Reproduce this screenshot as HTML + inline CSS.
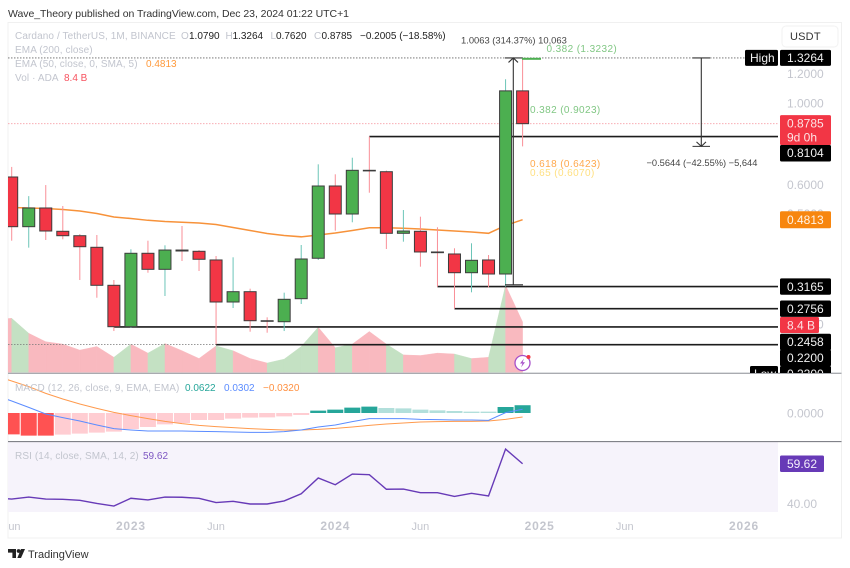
<!DOCTYPE html>
<html lang="en">
<head>
<meta charset="utf-8">
<title>Cardano / TetherUS chart</title>
<style>
html,body{margin:0;padding:0;background:#fff;width:850px;height:568px;overflow:hidden}
svg{display:block;filter:blur(0.3px)}
text{font-family:"Liberation Sans",sans-serif}
</style>
</head>
<body>
<svg id="chart" xmlns="http://www.w3.org/2000/svg" width="850" height="568" viewBox="0 0 850 568">
<defs>
<clipPath id="pane-main"><rect x="8" y="23" width="770" height="350"/></clipPath>
<clipPath id="pane-macd"><rect x="8" y="374" width="770" height="67"/></clipPath>
<clipPath id="pane-rsi"><rect x="8" y="442" width="770" height="70"/></clipPath>
<clipPath id="axis-clip"><rect x="700" y="23" width="141" height="350"/></clipPath>
<clipPath id="time-clip"><rect x="8" y="512" width="770" height="26"/></clipPath>
</defs>
<rect width="850" height="568" fill="#ffffff"/>
<text x="8" y="17" font-size="10.5" fill="#333" textLength="341" lengthAdjust="spacing">Wave_Theory published on TradingView.com, Dec 23, 2024 01:22 UTC+1</text>
<rect x="8" y="22.5" width="833.5" height="515.5" fill="none" stroke="#f0f0f0"/>
<rect x="8" y="442" width="770" height="70" fill="#f6f3fb"/>

<g id="g-volume" clip-path="url(#pane-main)"></g>
<g id="g-dotted"></g>
<g id="g-hlines"></g>
<g id="g-ema" clip-path="url(#pane-main)"></g>
<g id="g-candles" clip-path="url(#pane-main)"></g>

<g fill="none" stroke="#333" stroke-width="1">
<path id="measure-up-path" stroke-width="1.1"/>
</g>
<g fill="none" stroke="#333" stroke-width="1">
<path id="measure-down-path" stroke-width="1.1"/>
</g>
<rect id="fib-top-line" x="522" width="19" height="2" fill="#4caf50"/>
<text x="461" y="43.5" font-size="9.4" fill="#444">1.0063 (314.37%) 10,063</text>
<text x="646.5" y="166" font-size="9.3" fill="#444">−0.5644 (−42.55%) −5,644</text>
<text x="546.5" y="52" font-size="10" fill="#81c784" letter-spacing=".4">0.382 (1.3232)</text>
<text x="530" y="113" font-size="10" fill="#81c784" letter-spacing=".4">0.382 (0.9023)</text>
<text x="530" y="167" font-size="10" fill="#ffa94d" letter-spacing=".4">0.618 (0.6423)</text>
<text x="530" y="176" font-size="10" fill="#ffe082" letter-spacing=".4">0.65 (0.6070)</text>

<g font-size="10">
<text x="15" y="39" fill="#c2c5ce" letter-spacing=".1">Cardano / TetherUS, 1M, BINANCE</text>
<text x="181" y="39" fill="#c2c5ce">O</text>
<text x="189" y="39" fill="#222">1.0790</text>
<text x="225.5" y="39" fill="#c2c5ce">H</text>
<text x="232.5" y="39" fill="#222">1.3264</text>
<text x="270.5" y="39" fill="#c2c5ce">L</text>
<text x="276" y="39" fill="#222">0.7620</text>
<text x="314" y="39" fill="#c2c5ce">C</text>
<text x="321.5" y="39" fill="#222">0.8785</text>
<text x="360" y="39" fill="#222">−0.2005 (−18.58%)</text>
<text x="15" y="53" fill="#c2c5ce" letter-spacing=".1">EMA (200, close)</text>
<text x="15" y="67" fill="#c2c5ce" letter-spacing=".1">EMA (50, close, 0, SMA, 5)</text>
<text x="146" y="67" fill="#ff9a3c">0.4813</text>
<text x="15" y="81" fill="#c2c5ce" letter-spacing=".1">Vol · ADA</text>
<text x="64" y="81" fill="#f7525f">8.4 B</text>
</g>

<line x1="8" x2="841.5" y1="373.3" y2="373.3" stroke="#a9abb0" stroke-width="1.4"/>
<line x1="8" x2="841.5" y1="441.6" y2="441.6" stroke="#6f7178" stroke-width="1"/>

<g id="g-macd" clip-path="url(#pane-macd)"></g>
<g id="g-rsi" clip-path="url(#pane-rsi)"></g>

<g font-size="10">
<text x="15" y="391" fill="#c2c5ce" letter-spacing=".1">MACD (12, 26, close, 9, EMA, EMA)</text>
<text x="185" y="391" fill="#26a69a">0.0622</text>
<text x="224" y="391" fill="#5b8cff">0.0302</text>
<text x="263" y="391" fill="#ff9040">−0.0320</text>
</g>
<g font-size="10">
<text x="15" y="459" fill="#c2c5ce" letter-spacing=".1">RSI (14, close, SMA, 14, 2)</text>
<text x="143" y="459" fill="#7e57c2">59.62</text>
</g>

<g id="g-axis" clip-path="url(#axis-clip)"></g>
<g id="g-time" clip-path="url(#time-clip)"></g>
<text x="787" y="417.5" font-size="12" fill="#c4c6ce">0.0000</text>
<text x="787" y="508" font-size="12" fill="#c4c6ce">40.00</text>
<rect x="780" y="455.5" width="44" height="16.5" rx="1.5" fill="#673ab7"/>
<text x="787" y="468" font-size="12" fill="#f3eefb">59.62</text>

<g>
<rect x="782" y="26" width="56" height="21" rx="4" fill="#fff" stroke="#f2f2f2"/>
<text x="790" y="40" font-size="11" fill="#333" letter-spacing=".2">USDT</text>
</g>

<g>
<circle cx="522.5" cy="363" r="7.5" fill="#fff" stroke="#a64fc9" stroke-width="1.3"/>
<path d="M524 358.5 L520 363.5 L522.5 363.5 L521 367.5 L525 362.3 L522.6 362.3 Z" fill="#a64fc9"/>
<circle cx="528.5" cy="357" r="2" fill="#f23645"/>
</g>

<g>
<path d="M8 549 H16 V558 H12.4 V552.6 H8 Z" fill="#222"/>
<circle cx="18.6" cy="551" r="1.9" fill="#222"/>
<path d="M21 549 H25 L21 558 H17.3 Z" fill="#222"/>
<text x="28" y="558" font-size="11" fill="#333">TradingView</text>
</g>
</svg>
<script>
var opens = [0.629,0.4607,0.518,0.4476,0.4354,0.4049,0.3191,0.2462,0.39,0.3527,0.398,0.3949,0.374,0.2874,0.3066,0.2556,0.254,0.2934,0.378,0.5945,0.4988,0.6559,0.6502,0.442,0.4476,0.3932,0.3883,0.3453,0.374,0.3425,1.0790];
var highs = [0.670,0.558,0.598,0.5245,0.4401,0.4373,0.3299,0.3999,0.422,0.41,0.4627,0.398,0.3834,0.3803,0.3124,0.2611,0.3047,0.4108,0.681,0.6397,0.7098,0.8104,0.655,0.5115,0.4905,0.459,0.4024,0.4152,0.3858,1.16,1.3264];
var lows = [0.422,0.404,0.4238,0.4257,0.3299,0.2952,0.2396,0.2442,0.3453,0.2984,0.3716,0.349,0.2205,0.2768,0.2386,0.2371,0.2396,0.2838,0.374,0.4493,0.4736,0.570,0.4006,0.4194,0.3586,0.3165,0.2756,0.3054,0.3151,0.3165,0.7620];
var closes = [0.4607,0.518,0.4484,0.4354,0.4064,0.3191,0.2462,0.39,0.3527,0.398,0.3956,0.3756,0.2874,0.3066,0.2556,0.2551,0.2923,0.3763,0.5945,0.4988,0.6559,0.6543,0.442,0.4484,0.3932,0.3915,0.3453,0.3732,0.3425,1.0790,0.8785];
var ema50 = [0.5196,0.518,0.5163,0.5131,0.5083,0.5004,0.4895,0.485,0.4795,0.4759,0.4738,0.4715,0.4671,0.4584,0.4498,0.4415,0.4359,0.4324,0.4373,0.4429,0.4498,0.4575,0.4575,0.4564,0.4541,0.4513,0.4484,0.4456,0.442,0.4642,0.4813];
var emaPrior = 0.52;
var volumes = [9.0,6.5,5.1,4.7,3.7,4.3,2.5,4.7,3.2,4.8,3.6,2.3,4.4,3.6,2.3,1.55,2.2,4.3,7.5,4.1,4.7,6.8,4.7,2.9,2.8,3.2,3.05,2.3,2.5,14.5,8.4];
var volumePrior = 8.8;
var macdLine = [0.096,0.045,-0.008,-0.037,-0.064,-0.096,-0.125,-0.136,-0.144,-0.144,-0.144,-0.147,-0.149,-0.152,-0.155,-0.155,-0.149,-0.136,-0.112,-0.096,-0.069,-0.045,-0.045,-0.045,-0.051,-0.053,-0.056,-0.056,-0.059,0.003,0.0302];
var macdPrior = 0.144;
var signalLine = [0.256,0.211,0.157,0.112,0.072,0.037,0.005,-0.021,-0.045,-0.067,-0.085,-0.099,-0.109,-0.117,-0.125,-0.131,-0.136,-0.136,-0.131,-0.123,-0.112,-0.099,-0.088,-0.080,-0.072,-0.069,-0.067,-0.067,-0.064,-0.051,-0.032];
var signalPrior = 0.30;
var macdHist = [-0.171,-0.181,-0.181,-0.173,-0.165,-0.157,-0.149,-0.128,-0.112,-0.091,-0.080,-0.056,-0.056,-0.045,-0.037,-0.035,-0.027,-0.016,0.019,0.027,0.043,0.051,0.040,0.037,0.027,0.021,0.016,0.011,0.011,0.048,0.0622];
var macdHistPrior = -0.15;
var macdHistColors = ['#ff5252','#ff5252','#ff5252','#ffcdd2','#ffcdd2','#ffcdd2','#ffcdd2','#ffcdd2','#ffcdd2','#ffcdd2','#ffcdd2','#ffcdd2','#ffcdd2','#ffcdd2','#ffcdd2','#ffcdd2','#ffcdd2','#ffcdd2','#26a69a','#26a69a','#26a69a','#26a69a','#b2dfdb','#b2dfdb','#b2dfdb','#b2dfdb','#b2dfdb','#b2dfdb','#b2dfdb','#26a69a','#26a69a'];
var rsiValues = [42.4,43.4,42.4,42.3,41.8,40.3,39.0,42.8,42.0,43.4,43.3,42.8,40.7,41.3,40.0,40.0,41.5,45.0,52.7,49.4,54.6,54.3,47.2,47.3,45.5,45.5,43.7,45.2,43.9,66.8,59.62];
var rsiPrior = 42.9;
var supportPrices = [0.8104,0.3165,0.2756,0.2458,0.22];
var supportStarts = [21,25,26,6,12];
var priceTicks = ["1.2000","1.0000","0.6000","0.5000","0.2500"];
var tickPrices = [1.2,1.0,0.6,0.5,0.25];
var timeLabels = ["Jun","2023","Jun","2024","Jun","2025","Jun","2026"];
var timeIndexes = [0,7,12,19,24,31,36,43];
var boxLabels = ["0.3165","0.2756","0.2458","0.2200"];
var boxPrices = [0.3165,0.2756,0.2458,0.22];
var measureUp = [1.3264,0.32];
var measureDown = [1.3264,0.762];
var lastClose = 0.8785;
var lastEma = 0.4813;

var NS = 'http://www.w3.org/2000/svg';
function X(i){ return 11.7 + 17.03 * i; }
function Y(p){ return 103 - 159.6 * Math.log(p); }
function VY(v){ return 372.3 - 6 * v; }
function MY(v){ return 413 - 125 * v; }
function RY(v){ return 504 - 2.05 * (v - 40); }
function make(parent, tagName, attrs, txt){
  var e = document.createElementNS(NS, tagName);
  for (var k in attrs) e.setAttribute(k, attrs[k]);
  if (txt !== undefined) e.textContent = txt;
  parent.appendChild(e);
  return e;
}
function g(id){ return document.getElementById(id); }
function linePath(vals, prior, fy){
  var d = 'M' + X(-1) + ' ' + fy(prior);
  for (var i = 0; i < vals.length; i++) d += ' L' + X(i).toFixed(2) + ' ' + fy(vals[i]).toFixed(2);
  return d;
}

/* volume */
var volG = g('g-volume');
for (var v = -1; v < volumes.length - 1; v++) {
  var va = v < 0 ? volumePrior : volumes[v];
  var up = closes[v + 1] >= opens[v + 1];
  var segColor = up ? '#c4e1c3' : '#f9b9bf';
  var seg = make(volG, 'polygon', {
    points: X(v) + ',372.3 ' + X(v) + ',' + VY(va) + ' ' + X(v + 1) + ',' + VY(volumes[v + 1]) + ' ' + X(v + 1) + ',372.3',
    fill: segColor,
    stroke: segColor,
    'stroke-width': 0.4
  });
  
  
}

/* dotted */
var dotG = g('g-dotted');
var dotHigh = make(dotG, 'line', {x1: 8, x2: 745, y1: Y(highs[30]), y2: Y(highs[30]), stroke: '#666', 'stroke-width': 0.8, 'stroke-dasharray': '1.5 1.5'});


var dotClose = make(dotG, 'line', {x1: 8, x2: 778, y1: Y(lastClose), y2: Y(lastClose), stroke: '#f7a0a8', 'stroke-width': 0.8, 'stroke-dasharray': '1.5 1.5'});


var dotVol = make(dotG, 'line', {x1: 8, x2: 216, y1: Y(0.22), y2: Y(0.22), stroke: '#777', 'stroke-width': 0.7, 'stroke-dasharray': '1.5 1.5'});



/* ema */
var emaPath = make(g('g-ema'), 'path', {d: linePath(ema50, emaPrior, Y), fill: 'none', stroke: '#f7923a', 'stroke-width': 1.5});



/* support lines */
var hG = g('g-hlines');
for (var h = 0; h < supportPrices.length; h++) {
  var hl = make(hG, 'line', {x1: X(supportStarts[h]), x2: 778, y1: Y(supportPrices[h]), y2: Y(supportPrices[h]), stroke: '#1c1c1c', 'stroke-width': 1.6});
  
  
}

/* candles */
var cG = g('g-candles');
for (var c = 0; c < opens.length; c++) {
  var isUp = closes[c] >= opens[c];
  var cx = X(c);
  var wick = make(cG, 'line', {x1: cx, x2: cx, y1: Y(highs[c]), y2: Y(lows[c]), stroke: isUp ? '#6cc5b8' : '#f98f97', 'stroke-width': 1});
  
  
  var bodyTop = Y(Math.max(opens[c], closes[c]));
  var bodyBottom = Y(Math.min(opens[c], closes[c]));
  var candleBody = make(cG, 'rect', {x: cx - 6, y: bodyTop, width: 12, height: Math.max(bodyBottom - bodyTop, 0.6), fill: isUp ? '#4caf50' : '#f23645', stroke: '#3d3d3d', 'stroke-width': 1});
  
  
}

/* measure tools */
var ty = Y(measureUp[0]), by = Y(measureUp[1]);
g('measure-up-path').setAttribute('d', 'M513.3 ' + ty + ' V' + by + ' M505 ' + by + ' H523 M505 ' + ty + ' H523 M508.5 ' + (ty + 4.5) + ' L513.3 ' + ty + ' L518 ' + (ty + 4.5));
var my = Y(measureDown[0]), mb = Y(measureDown[1]);
g('measure-down-path').setAttribute('d', 'M701.3 ' + my + ' V' + mb + ' M692.5 ' + my + ' H710 M692.5 ' + mb + ' H710 M696.5 ' + (mb - 4.5) + ' L701.3 ' + mb + ' L706 ' + (mb - 4.5));
g('fib-top-line').setAttribute('y', Y(1.3232) - 0.5);

/* macd */
var mG = g('g-macd');
for (var b = 0; b < macdHist.length; b++) {
  var y0 = MY(0), y1 = MY(macdHist[b]);
  var bar = make(mG, 'rect', {x: X(b) - 8, y: Math.min(y0, y1), width: 16, height: Math.abs(y1 - y0), fill: macdHistColors[b]});
  
  
}
var sigPath = make(mG, 'path', {d: linePath(signalLine, signalPrior, MY), fill: 'none', stroke: '#ff9a4d', 'stroke-width': 1});


var macPath = make(mG, 'path', {d: linePath(macdLine, macdPrior, MY), fill: 'none', stroke: '#5b8cff', 'stroke-width': 1});



/* rsi */
var rsiPath = make(g('g-rsi'), 'path', {d: linePath(rsiValues, rsiPrior, RY), fill: 'none', stroke: '#673ab7', 'stroke-width': 1.4});



/* time axis */
var tG = g('g-time');
for (var t = 0; t < timeLabels.length; t++) {
  var isYear = timeLabels[t].length === 4;
  var tl = make(tG, 'text', {x: X(timeIndexes[t]), y: 530, 'text-anchor': 'middle', 'font-size': isYear ? 12 : 11, 'font-weight': isYear ? 'bold' : 'normal', 'letter-spacing': isYear ? 0.8 : 0, fill: '#c4c6ce'}, timeLabels[t]);
  
  
}

/* price axis */
var aG = g('g-axis');
for (var a = 0; a < priceTicks.length; a++) {
  var tk = make(aG, 'text', {x: 787, y: Y(tickPrices[a]) + 4.3, 'font-size': 12, fill: '#c4c6ce'}, priceTicks[a]);
  
  
}
function priceTag(name, x, y, w, h, fill, label, tx, ty2, col){
  var r = make(aG, 'rect', {x: x, y: y, width: w, height: h, rx: 1.5, fill: fill});
  
  
  if (label) {
    var l = make(aG, 'text', {x: tx, y: ty2, 'font-size': 12, fill: col}, label);
    
    
  }
}
var yHigh = Y(highs[30]);
priceTag('high-tag', 745, yHigh - 8, 33, 16, '#000', 'High', 750, yHigh + 4.2, '#f0f0f0');
priceTag('high-price-tag', 780, yHigh - 8, 51, 16, '#000', '1.3264', 787, yHigh + 4.2, '#f0f0f0');
var yC = Y(lastClose);
priceTag('last-price-tag', 780, yC - 8.5, 51, 30, '#f23645', '0.8785', 787, yC + 4, '#fde3e5');
var cd = make(aG, 'text', {x: 787, y: yC + 18, 'font-size': 12, fill: '#fde3e5'}, '9d 0h');


var y81 = 153;
priceTag('level-0-8104-tag', 780, y81 - 8, 51, 16.5, '#000', '0.8104', 787, y81 + 4.2, '#f0f0f0');
var yE = Y(lastEma);
priceTag('ema-tag', 780, yE - 8.5, 51, 17, '#f7860f', '0.4813', 787, yE + 4.2, '#fff3e6');
for (var q = 0; q < boxLabels.length; q++) {
  var by2 = q < 2 ? Y(boxPrices[q]) : (q === 2 ? 342 : 358);
  priceTag('level-tag', 780, by2 - 8.2, 51, 16.4, '#000', boxLabels[q], 787, by2 + 4.2, '#f0f0f0');
}
priceTag('volume-tag', 780, 317, 39, 16, '#f23645', '8.4 B', 787, 329.5, '#fde3e5');
priceTag('low-price-tag', 780, 366, 51, 12, '#000', '0.2200', 787, 378, '#f0f0f0');
priceTag('low-tag', 750, 366, 28, 12, '#000', 'Low', 754, 378, '#f0f0f0');
</script>
</body>
</html>
